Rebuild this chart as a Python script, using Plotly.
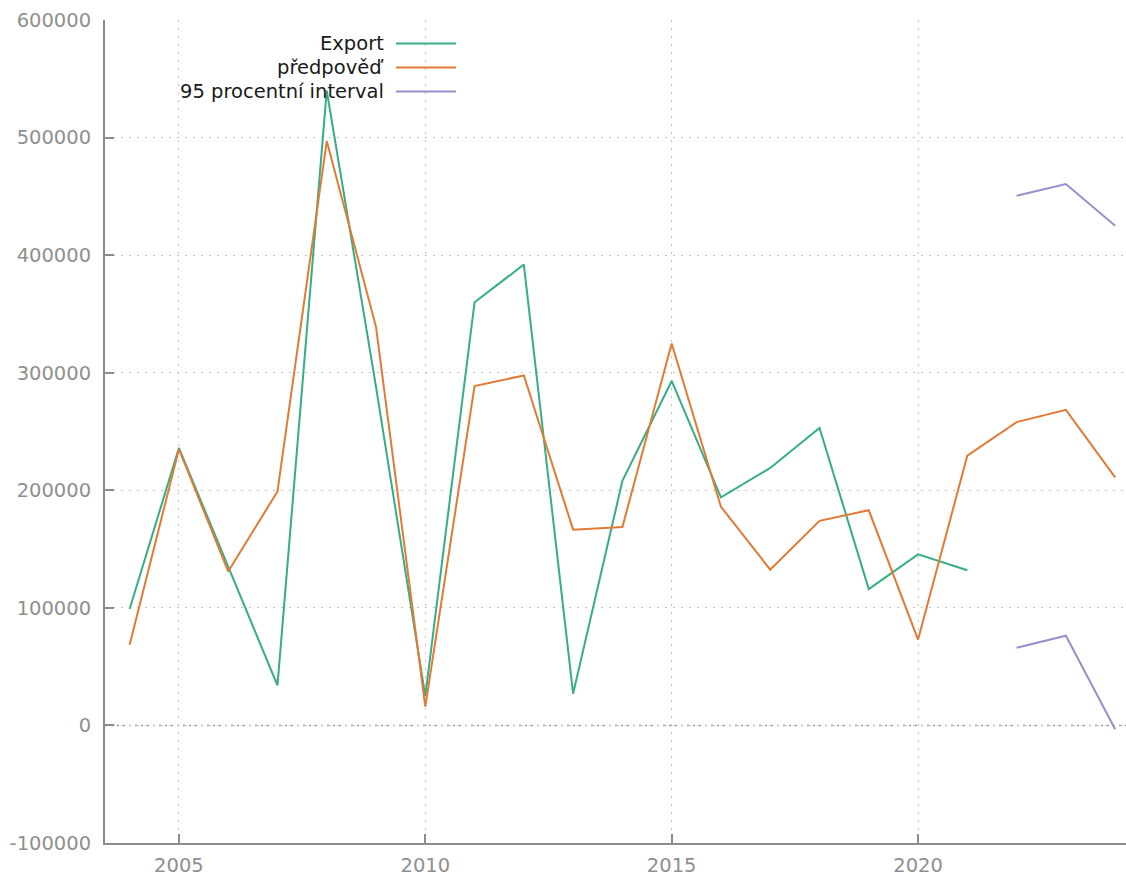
import plotly.graph_objects as go

years_export = list(range(2004, 2022))
export = [99000, 236000, 135000, 34000, 540000, 288000, 25000, 360000, 392000,
          27000, 208000, 293000, 194000, 219000, 253000, 116000, 145500, 132000]

years_forecast = list(range(2004, 2025))
forecast = [68700, 235000, 131000, 199000, 497000, 339000, 16000, 288600, 297700,
            166500, 168700, 324800, 186000, 132500, 174000, 183000, 73000, 229500,
            258000, 268400, 211000]

years_interval = [2022, 2023, 2024]
upper = [450500, 460500, 425000]
lower = [66100, 76300, -3300]

series_names = ["Export", "předpověď", "95 procentní interval"]
colors = ["#35ad85", "#e27a36", "#968fcb"]

y_ticks = list(range(-100000, 600001, 100000))
y_tick_labels = [str(v) for v in y_ticks]
x_ticks = [2005, 2010, 2015, 2020]

fig = go.Figure()
fig.add_trace(go.Scatter(x=years_export, y=export, mode="lines",
                         line=dict(color=colors[0], width=2), name=series_names[0]))
fig.add_trace(go.Scatter(x=years_forecast, y=forecast, mode="lines",
                         line=dict(color=colors[1], width=2), name=series_names[1]))
fig.add_trace(go.Scatter(x=years_interval, y=upper, mode="lines",
                         line=dict(color=colors[2], width=2), name=series_names[2]))
fig.add_trace(go.Scatter(x=years_interval, y=lower, mode="lines",
                         line=dict(color=colors[2], width=2), name=series_names[2]))

L, T, R, B = 105, 20, 0, 33
W, H = 1126, 876
pw, ph = W - L - R, H - T - B

# zero line (dotted, darker)
fig.add_shape(type="line", xref="paper", yref="y", x0=0, x1=1, y0=0, y1=0,
              line=dict(color="#9a9a9a", width=1.5, dash="2px,4px"), layer="below")

# legend drawn gnuplot-style: text right, sample line after it
leg_text_right = 386
leg_line = (396, 456)
leg_y = [43.5, 67.5, 91.5]
for name, col, yy in zip(series_names, colors, leg_y):
    py = 1 - (yy - T) / ph
    fig.add_annotation(xref="paper", yref="paper", x=(leg_text_right - L) / pw, y=py,
                       text=name, showarrow=False, xanchor="right", yanchor="middle",
                       font=dict(family="DejaVu Sans", size=19.5, color="#1a1a1a"))
    fig.add_shape(type="line", xref="paper", yref="paper",
                  x0=(leg_line[0] - L) / pw, x1=(leg_line[1] - L) / pw, y0=py, y1=py,
                  line=dict(color=col, width=2))

axis_common = dict(
    showline=True, linecolor="#8c8c8c", linewidth=2,
    ticks="inside", ticklen=9, tickwidth=2, tickcolor="#8c8c8c",
    showgrid=True, gridcolor="#c4c4c4", gridwidth=1.2, griddash="2px,6px",
    zeroline=False,
    tickfont=dict(family="DejaVu Sans", size=19.5, color="#8f8f8f"),
)

fig.update_layout(
    width=W, height=H,
    margin=dict(l=L, r=R, t=T, b=B, pad=0),
    paper_bgcolor="white", plot_bgcolor="white",
    showlegend=False,
    xaxis=dict(range=[2003.5, 2024.22], tickvals=x_ticks, ticklabelstandoff=4, **axis_common),
    yaxis=dict(range=[-100000, 600000], tickvals=y_ticks, ticktext=y_tick_labels,
               ticklabelstandoff=8, **axis_common),
)

fig.write_html("out.html", config={"displayModeBar": False},
               post_script="document.body.style.margin='0px';document.body.style.overflow='hidden';")
